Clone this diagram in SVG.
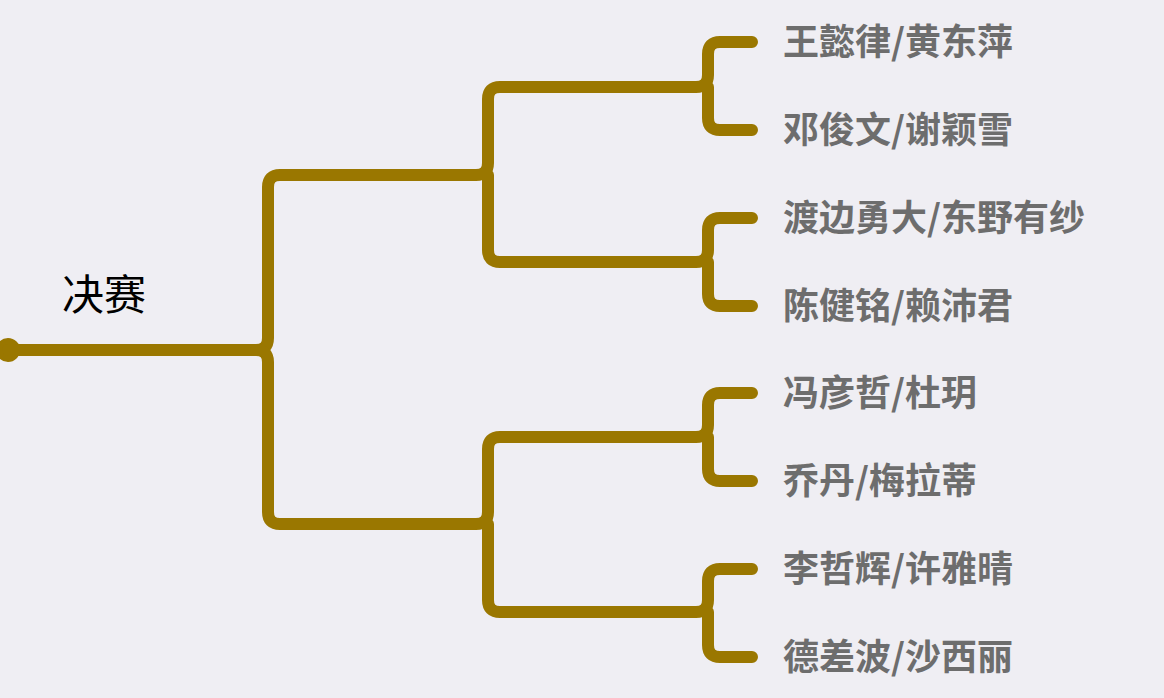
<svg xmlns="http://www.w3.org/2000/svg" width="1164" height="698" viewBox="0 0 1164 698">
<style>
.c{fill:none;stroke:#9a7700;stroke-width:12;stroke-linecap:round;stroke-linejoin:round}
.t{font-family:"Noto Sans CJK SC",sans-serif;font-size:36px;font-weight:bold;fill:#6d6d6d}
.r{font-family:"Noto Sans CJK SC",sans-serif;font-size:42px;fill:#000}
</style>
<rect width="1164" height="698" fill="#efeef3"/>
<g id="connectors">
<circle cx="8" cy="350" r="12" fill="#9a7700"/>
<path class="c" d="M8,350 H256 Q268,350 268,338 V187 Q268,175 280,175 H476 Q488,175 488,163 V99 Q488,87 500,87 H696 Q708,87 708,75 V54 Q708,42 720,42 H752 M708,87 Q708,99 708,99 V118 Q708,130 720,130 H752 M488,175 V250 Q488,262 500,262 H696 Q708,262 708,250 V230 Q708,218 720,218 H752 M708,262 V294 Q708,306 720,306 H752"/>
<path class="c" d="M256,350 Q268,350 268,362 V512 Q268,524 280,524 H476 Q488,524 488,512 V449 Q488,437 500,437 H696 Q708,437 708,425 V405 Q708,393 720,393 H752 M708,437 V469 Q708,481 720,481 H752 M488,524 V600 Q488,612 500,612 H696 Q708,612 708,600 V581 Q708,569 720,569 H752 M708,612 V645 Q708,657 720,657 H752"/>
</g>
<g id="root"><text class="r" x="62" y="310">决赛</text></g>
<g id="n1"><text class="t" x="783" y="55">王懿律/黄东萍</text></g>
<g id="n2"><text class="t" x="783" y="143">邓俊文/谢颖雪</text></g>
<g id="n3"><text class="t" x="783" y="231">渡边勇大/东野有纱</text></g>
<g id="n4"><text class="t" x="783" y="319">陈健铭/赖沛君</text></g>
<g id="n5"><text class="t" x="783" y="406">冯彦哲/杜玥</text></g>
<g id="n6"><text class="t" x="783" y="494">乔丹/梅拉蒂</text></g>
<g id="n7"><text class="t" x="783" y="582">李哲辉/许雅晴</text></g>
<g id="n8"><text class="t" x="783" y="670">德差波/沙西丽</text></g>
</svg>
